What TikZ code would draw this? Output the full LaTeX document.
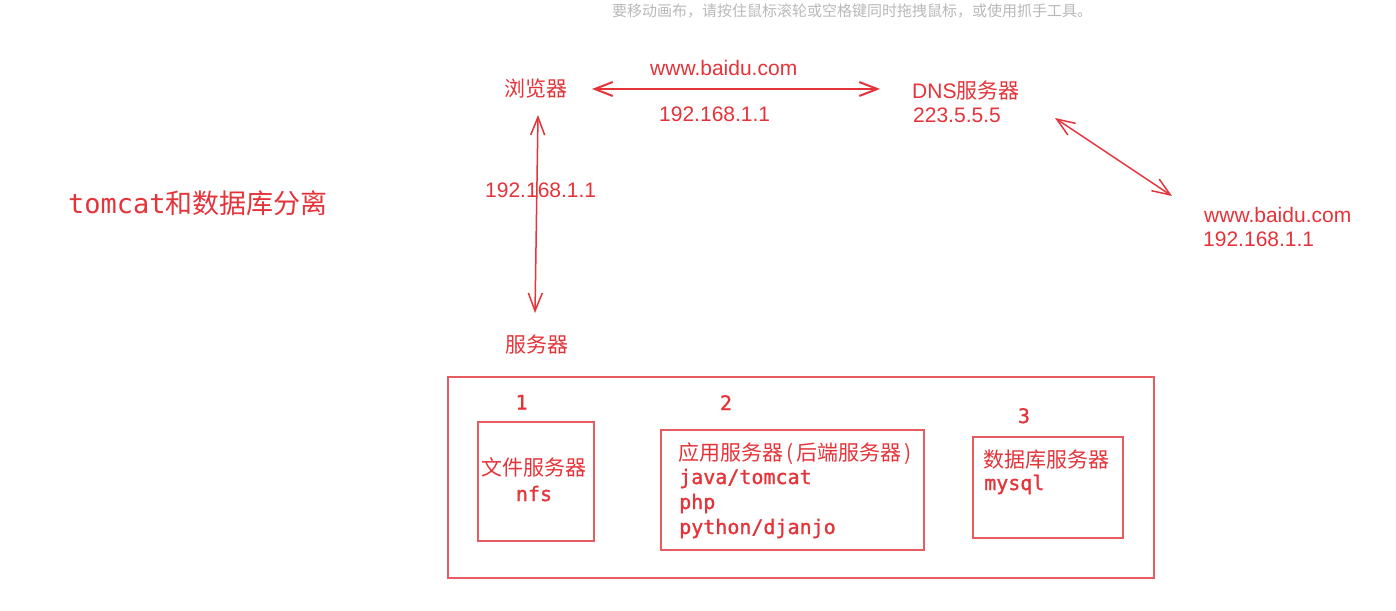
\documentclass[tikz,border=0pt]{standalone}
\usepackage{fontspec}
\setmainfont{Liberation Sans}
\newfontfamily\cjk{Noto Sans CJK SC}
\newfontfamily\monofnt{DejaVu Sans Mono}
\newfontfamily\monobold[FakeBold=1.2]{DejaVu Sans Mono}
\usetikzlibrary{arrows.meta}
\definecolor{txtred}{RGB}{228,52,58}
\definecolor{boxred}{RGB}{230,92,96}
\definecolor{hintgray}{RGB}{185,185,185}
\begin{document}
\begin{tikzpicture}[x=1pt,y=-1pt,
  lbl/.style={text=txtred, inner sep=0pt, font=\fontsize{21}{25}\selectfont},
  cj/.style={text=txtred, inner sep=0pt, font=\fontsize{21}{25}\selectfont\cjk},
  mo/.style={text=txtred, inner sep=0pt, font=\fontsize{20}{25}\selectfont\monobold},
  box/.style={draw=boxred, line width=2pt, inner sep=0pt, anchor=north west},
  dblarrow/.style={draw=txtred, line width=1.5pt,
    {Straight Barb[length=18pt,width=14pt]}-{Straight Barb[length=18pt,width=14pt]}},
]
\useasboundingbox (0,0) rectangle (1396,610);
\fill[white] (0,0) rectangle (1396,610);

% hint text
\node[inner sep=0pt, anchor=base west, text=hintgray, font=\fontsize{15}{18}\selectfont\cjk] (note) at (612,16.5)
  {要移动画布，请按住鼠标滚轮或空格键同时拖拽鼠标，或使用抓手工具。};

% title
\node[inner sep=0pt, anchor=base west, text=txtred] (title) at (68,213)
  {\fontsize{27}{30}\selectfont{\monofnt tomcat}{\cjk 和数据库分离}};

% top labels
\node[cj, anchor=base west] (browser) at (504,96) {浏览器};
\node[lbl, anchor=base west] (url1) at (650,75) {www.baidu.com};
\node[lbl, anchor=base west] (ip1) at (659,121.5) {192.168.1.1};
\node[lbl, anchor=base west] (dns) at (912,98) {DNS{\cjk 服务器}};
\node[lbl, anchor=base west] (dnsip) at (913,122) {223.5.5.5};
\node[lbl, anchor=base west] (url2) at (1204,222) {www.baidu.com};
\node[lbl, anchor=base west] (ip2) at (1203,246) {192.168.1.1};
\node[lbl, anchor=base west] (ip3) at (485,197.5) {192.168.1.1};
\node[cj, anchor=base west] (server) at (505,352) {服务器};

% arrows
\coordinate (hA) at (592,89);
\coordinate (hB) at (880,89);
\coordinate (vA) at (538,115);
\coordinate (vB) at (535,313);
\coordinate (dA) at (1055,118);
\coordinate (dB) at (1172,196);
\draw[dblarrow, line width=2pt] (hA) -- (hB);
\draw[dblarrow] (vA) -- (vB);
\draw[dblarrow] (dA) -- (dB);

% boxes
\node[box, minimum width=706pt, minimum height=201pt] (outer) at (447,376) {};
\node[box, minimum width=116pt, minimum height=119pt] (box1) at (477,421) {};
\node[box, minimum width=263pt, minimum height=120pt] (box2) at (660,429) {};
\node[box, minimum width=150pt, minimum height=101pt] (box3) at (972,436) {};

% numbers
\node[mo, anchor=base] (n1) at (521.5,409.5) {1};
\node[mo, anchor=base] (n2) at (726,410) {2};
\node[mo, anchor=base] (n3) at (1024,423) {3};

% box texts
\node[cj, anchor=base] (fs) at (534,475) {文件服务器};
\node[mo, anchor=base] (nfs) at (534,501) {nfs};

\node[cj, anchor=base west] (app) at (678,460) {应用服务器\kern3pt(\kern3pt后端服务器\kern3pt)};
\node[mo, anchor=base west] (java) at (679,484) {java/tomcat};
\node[mo, anchor=base west] (php) at (679,509) {php};
\node[mo, anchor=base west] (python) at (679,534) {python/djanjo};

\node[cj, anchor=base west] (db) at (983,467) {数据库服务器};
\node[mo, anchor=base west] (mysql) at (984,490) {mysql};
\end{tikzpicture}
\end{document}
